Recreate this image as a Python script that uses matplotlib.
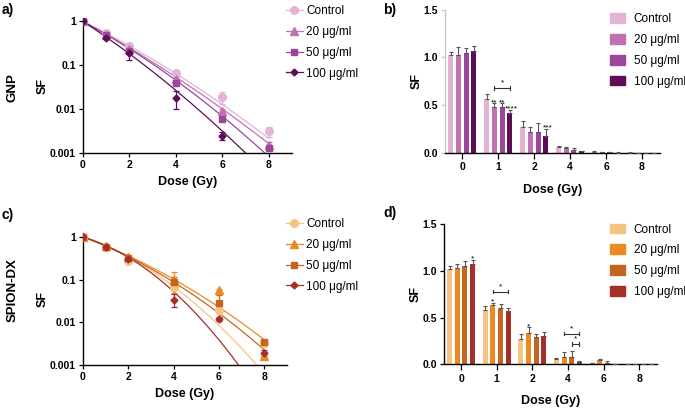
import numpy as np
import matplotlib
matplotlib.use('Agg')
import matplotlib.pyplot as plt
import matplotlib.ticker as ticker

plt.rcParams['font.family'] = ['Liberation Sans', 'DejaVu Sans']

doses = [0, 1, 2, 4, 6, 8]
dose_labels = ['0', '1', '2', '4', '6', '8']
groups = ['Control', '20 \u03bcg/ml', '50 \u03bcg/ml', '100 \u03bcg/ml']

# GNP clonogenic survival (log panel)
gnp_ctrl = [1.0, 0.54, 0.28, 0.067, 0.019, 0.0031]
gnp_20 = [1.0, 0.50, 0.24, 0.049, 0.0091, 0.00155]
gnp_50 = [1.0, 0.48, 0.21, 0.039, 0.0061, 0.0013]
gnp_100 = [1.0, 0.42, 0.19, 0.018, 0.0025, np.nan]
gnp_ctrl_err = [0.06, 0.03, 0.03, 0.006, 0.006, 0.0008]
gnp_20_err = [0.05, 0.03, 0.03, 0.005, 0.001, 0.0002]
gnp_50_err = [0.05, 0.03, 0.03, 0.004, 0.0008, 0.0002]
gnp_100_err = [0.05, 0.03, 0.06, 0.008, 0.0005, np.nan]
# linear-quadratic fit parameters (alpha, beta)
gnp_alpha = [0.601, 0.657, 0.657, 0.795]
gnp_beta = [0.0209, 0.0181, 0.0288, 0.0274]

# SPION-DX clonogenic survival (log panel)
sp_ctrl = [1.0, 0.58, 0.278, 0.069, 0.0196, 0.0032]
sp_20 = [1.0, 0.60, 0.34, 0.10, 0.056, 0.0016]
sp_50 = [1.0, 0.59, 0.32, 0.088, 0.028, 0.0035]
sp_100 = [1.0, 0.58, 0.31, 0.034, 0.0118, 0.0019]
sp_ctrl_err = [0.06, 0.03, 0.03, 0.01, 0.004, 0.0006]
sp_20_err = [0.05, 0.03, 0.04, 0.05, 0.004, 0.0002]
sp_50_err = [0.05, 0.03, 0.03, 0.03, 0.015, 0.0004]
sp_100_err = [0.05, 0.03, 0.03, 0.011, 0.001, 0.0003]
sp_alpha = [0.413, 0.446, 0.457, 0.36]
sp_beta = [0.0637, 0.0309, 0.0381, 0.0943]

# bar panels (linear SF)
gnpb_ctrl = [1.02, 0.56, 0.27, 0.056, 0.010, 0.002]
gnpb_20 = [1.02, 0.48, 0.22, 0.045, 0.005, 0.001]
gnpb_50 = [1.05, 0.475, 0.22, 0.028, 0.003, 0.001]
gnpb_100 = [1.07, 0.42, 0.175, 0.014, 0.002, 0.0]
gnpb_ctrl_err = [0.04, 0.06, 0.06, 0.014, 0.005, 0.001]
gnpb_20_err = [0.09, 0.04, 0.05, 0.011, 0.002, 0.0005]
gnpb_50_err = [0.05, 0.045, 0.09, 0.017, 0.002, 0.0005]
gnpb_100_err = [0.045, 0.03, 0.075, 0.006, 0.001, 0.0]

spb_ctrl = [1.02, 0.58, 0.27, 0.06, 0.01, 0.002]
spb_20 = [1.03, 0.64, 0.34, 0.075, 0.046, 0.001]
spb_50 = [1.05, 0.60, 0.29, 0.075, 0.018, 0.001]
spb_100 = [1.075, 0.575, 0.30, 0.029, 0.004, 0.0]
spb_ctrl_err = [0.03, 0.045, 0.06, 0.01, 0.005, 0.001]
spb_20_err = [0.05, 0.02, 0.06, 0.055, 0.009, 0.0005]
spb_50_err = [0.06, 0.05, 0.04, 0.07, 0.017, 0.0]
spb_100_err = [0.045, 0.025, 0.05, 0.011, 0.001, 0.0]

# significance marks: (group index, series index, text)
gnp_stars = [(1, 1, '**'), (1, 2, '**'), (1, 3, '****'), (2, 3, '***')]
sp_stars = [(0, 3, '*'), (1, 1, '*'), (2, 1, '*')]
# brackets: (group index, from series, to series, height, text)
gnp_brackets = [(1, 1, 3, 0.68, '*')]
sp_brackets = [(1, 1, 3, 0.78, '*'), (3, 1, 3, 0.33, '*'), (3, 2, 3, 0.22, '*')]

pink = ['#e2b3d3', '#c271b0', '#9a479c', '#5d0f55']
orange = ['#f7c384', '#ec8a21', '#c4661f', '#a52f29']
markers = ['o', '^', 's', 'D']
msizes = [5.5, 5.5, 5.0, 3.5]

W, H = 685, 408
fig = plt.figure(figsize=(W / 100, H / 100), dpi=100)


def rect(left, top, right, bottom):
    return [left / W, 1 - bottom / H, (right - left) / W, (bottom - top) / H]


def style(ax):
    ax.spines['top'].set_visible(False)
    ax.spines['right'].set_visible(False)
    for s in ['left', 'bottom']:
        ax.spines[s].set_linewidth(1.0)
    ax.tick_params(length=3, width=0.9, labelsize=7.5, pad=2)
    for lab in ax.get_xticklabels() + ax.get_yticklabels():
        lab.set_fontweight('bold')


def log_panel(ax, series, errs, alphas, betas, colors):
    dd = np.linspace(0, 8, 300)
    for i in range(4):
        ax.plot(dd, np.exp(-alphas[i] * dd - betas[i] * dd ** 2),
                color=colors[i], lw=0.9, zorder=2)
        ax.errorbar(doses, series[i], yerr=errs[i], fmt=markers[i],
                    color=colors[i], ms=msizes[i], capsize=2.5, elinewidth=0.9,
                    capthick=0.9, zorder=3)
    ax.set_yscale('log')
    ax.set_xlim(0, 9)
    ax.xaxis.set_major_locator(ticker.FixedLocator([0, 2, 4, 6, 8]))
    ax.yaxis.set_major_locator(ticker.FixedLocator([0.001, 0.01, 0.1, 1]))
    ax.yaxis.set_minor_locator(ticker.NullLocator())
    ax.set_yticklabels(['0.001', '0.01', '0.1', '1'])
    ax.set_xlabel('Dose (Gy)', fontsize=9, fontweight='bold', labelpad=4)
    ax.set_ylabel('SF', fontsize=9, fontweight='bold', labelpad=1)
    style(ax)
    handles = [plt.Line2D([], [], color=colors[i], marker=markers[i],
                          ms=msizes[i], lw=0.9) for i in range(4)]
    return handles


def bar_panel(ax, series, errs, colors, stars, brackets):
    x = np.arange(len(doses))
    pitch, width = 0.215, 0.14
    for i in range(4):
        off = (i - 1.5) * pitch
        ax.bar(x + off, series[i], width=width, color=colors[i], zorder=2)
        ax.errorbar(x + off, series[i], yerr=[np.zeros(len(x)), errs[i]], fmt='none',
                    ecolor='#555555', elinewidth=0.8, capsize=1.5, capthick=0.8, zorder=3)
    for g, s, txt in stars:
        top = series[s][g] + errs[s][g]
        xo = g + (s - 1.5) * pitch + (0.05 if len(txt) > 2 else 0)
        ax.text(xo, top + 0.005, txt, ha='center', va='center', fontsize=6)
    for g, s0, s1, h, txt in brackets:
        x0, x1 = g + (s0 - 1.5) * pitch, g + (s1 - 1.5) * pitch
        ax.plot([x0, x1], [h, h], color='#333333', lw=0.8, zorder=3)
        ax.plot([x0, x0], [h - 0.02, h + 0.02], color='#333333', lw=0.8)
        ax.plot([x1, x1], [h - 0.02, h + 0.02], color='#333333', lw=0.8)
        ax.text((x0 + x1) / 2, h + 0.01, txt, ha='center', va='bottom', fontsize=6)
    ax.set_xlim(-0.48, 5.5)
    ax.set_ylim(0, 1.5)
    ax.set_xticks(x)
    ax.set_xticklabels(dose_labels)
    ax.set_yticks([0, 0.5, 1.0, 1.5])
    ax.set_yticklabels(['0.0', '0.5', '1.0', '1.5'])
    ax.set_xlabel('Dose (Gy)', fontsize=9, fontweight='bold', labelpad=8)
    ax.set_ylabel('SF', fontsize=9, fontweight='bold', labelpad=1)
    style(ax)
    ax.tick_params(axis='x', length=4, pad=3)
    handles = [plt.Rectangle((0, 0), 1, 1, color=colors[i]) for i in range(4)]
    return handles


leg_kw = dict(frameon=False, fontsize=8.5, borderpad=0, borderaxespad=0,
              labelspacing=0.75, loc='upper left')

# a) GNP log
ax_a = fig.add_axes(rect(83, 18, 292, 153))
h = log_panel(ax_a, [gnp_ctrl, gnp_20, gnp_50, gnp_100],
              [gnp_ctrl_err, gnp_20_err, gnp_50_err, gnp_100_err],
              gnp_alpha, gnp_beta, pink)
ax_a.set_ylim(0.001, 1.2)
fig.legend(h, groups, bbox_to_anchor=(286 / W, 1 - 5 / H), handlelength=1.4,
           handletextpad=0.3, **leg_kw)

# b) GNP bars
ax_b = fig.add_axes(rect(445, 9.6, 660, 152.7))
h = bar_panel(ax_b, [gnpb_ctrl, gnpb_20, gnpb_50, gnpb_100],
              [gnpb_ctrl_err, gnpb_20_err, gnpb_50_err, gnpb_100_err],
              pink, gnp_stars, gnp_brackets)
ax_b.spines['left'].set_color('#c8c8c8')
ax_b.tick_params(axis='y', color='#c8c8c8')
fig.legend(h, groups, bbox_to_anchor=(610 / W, 1 - 13 / H), handlelength=1.3,
           handleheight=0.9, handletextpad=0.7, **leg_kw)

# c) SPION-DX log
ax_c = fig.add_axes(rect(83, 233, 287, 365))
h = log_panel(ax_c, [sp_ctrl, sp_20, sp_50, sp_100],
              [sp_ctrl_err, sp_20_err, sp_50_err, sp_100_err],
              sp_alpha, sp_beta, orange)
ax_c.set_ylim(0.001, 1.24)
fig.legend(h, groups, bbox_to_anchor=(286 / W, 1 - 218 / H), handlelength=1.4,
           handletextpad=0.3, **leg_kw)

# d) SPION-DX bars
ax_d = fig.add_axes(rect(444, 224.3, 657, 364.3))
h = bar_panel(ax_d, [spb_ctrl, spb_20, spb_50, spb_100],
              [spb_ctrl_err, spb_20_err, spb_50_err, spb_100_err],
              orange, sp_stars, sp_brackets)
fig.legend(h, groups, bbox_to_anchor=(610 / W, 1 - 223.5 / H), handlelength=1.3,
           handleheight=0.9, handletextpad=0.7, **leg_kw)

# panel letters and row labels
for txt, px, py in [('a)', 2, 10), ('b)', 383, 10), ('c)', 2, 215), ('d)', 383, 213)]:
    fig.text(px / W, 1 - py / H, txt, fontsize=10, fontweight='bold', va='center')
fig.text(13 / W, 1 - 88 / H, 'GNP', fontsize=9.5, fontweight='bold', rotation=90,
         ha='center', va='center')
fig.text(13 / W, 1 - 290 / H, 'SPION-DX', fontsize=9.5, fontweight='bold', rotation=90,
         ha='center', va='center')

fig.savefig('out.png', dpi=100)
